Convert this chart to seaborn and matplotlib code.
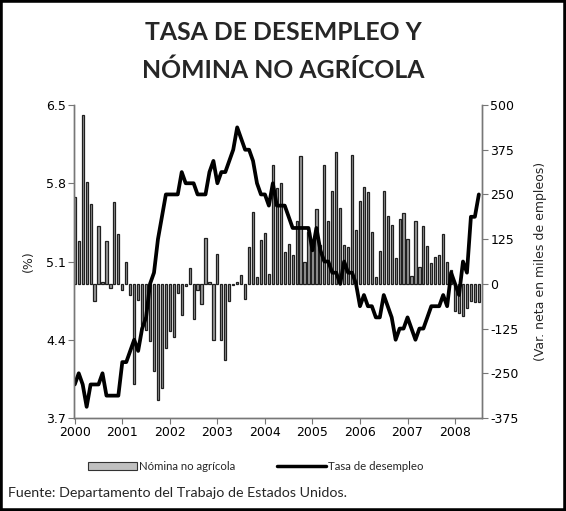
import numpy as np
import pandas as pd
import matplotlib
matplotlib.use("Agg")
import matplotlib.pyplot as plt
import seaborn as sns
from matplotlib.patches import Patch, Rectangle
from matplotlib.lines import Line2D

# ---- data (monthly, Jan 2000 - Jul 2008) ----
years = ["2000", "2001", "2002", "2003", "2004", "2005", "2006", "2007", "2008"]

unemployment = [
    4.0, 4.1, 4.0, 3.8, 4.0, 4.0, 4.0, 4.1, 3.9, 3.9, 3.9, 3.9,   # 2000
    4.2, 4.2, 4.3, 4.4, 4.3, 4.5, 4.6, 4.9, 5.0, 5.3, 5.5, 5.7,   # 2001
    5.7, 5.7, 5.7, 5.9, 5.8, 5.8, 5.8, 5.7, 5.7, 5.7, 5.9, 6.0,   # 2002
    5.8, 5.9, 5.9, 6.0, 6.1, 6.3, 6.2, 6.1, 6.1, 6.0, 5.8, 5.7,   # 2003
    5.7, 5.6, 5.8, 5.6, 5.6, 5.6, 5.5, 5.4, 5.4, 5.4, 5.4, 5.4,   # 2004
    5.2, 5.4, 5.2, 5.1, 5.1, 5.0, 5.0, 4.9, 5.1, 5.0, 5.0, 4.9,   # 2005
    4.7, 4.8, 4.7, 4.7, 4.6, 4.6, 4.8, 4.7, 4.6, 4.4, 4.5, 4.5,   # 2006
    4.6, 4.5, 4.4, 4.5, 4.5, 4.6, 4.7, 4.7, 4.7, 4.8, 4.7, 5.0,   # 2007
    4.9, 4.8, 5.1, 5.0, 5.5, 5.5, 5.7,                            # 2008
]

payrolls = [
    244, 120, 472, 286, 223, -47, 163, 5, 121, -12, 230, 138,          # 2000
    -17, 60, -31, -281, -45, -115, -128, -161, -245, -324, -291, -180,  # 2001
    -133, -149, -26, -87, -6, 44, -98, -17, -56, 128, 4, -156,          # 2002
    83, -158, -212, -49, -4, 5, 25, -43, 104, 202, 18, 123,             # 2003
    142, 27, 333, 269, 281, 88, 111, 81, 176, 358, 62, 144,             # 2004
    120, 209, 110, 332, 176, 261, 368, 212, 109, 104, 360, 151,         # 2005
    232, 272, 258, 146, 20, 93, 261, 190, 164, 72, 181, 197,            # 2006
    125, 23, 176, 46, 162, 107, 58, 74, 81, 140, 60, 39,                # 2007
    -77, -82, -89, -68, -49, -51, -51,                                  # 2008
]

months = list(range(len(unemployment)))
left_ticks = [3.7, 4.4, 5.1, 5.8, 6.5]
right_ticks = [-375, -250, -125, 0, 125, 250, 375, 500]

df = pd.DataFrame({"m": months, "u": unemployment, "p": payrolls})

sns.set_theme(style="white")
plt.rcParams["font.family"] = ["DejaVu Sans"]
plt.rcParams["font.sans-serif"] = ["DejaVu Sans"]

fig = plt.figure(figsize=(5.66, 5.11), dpi=100)
ax = fig.add_axes([0.1307, 0.182, 0.7209, 0.6125])
ax2 = ax.twinx()

sns.barplot(data=df, x="m", y="p", ax=ax2, color="#9a9a9a", edgecolor="#202020",
            linewidth=0.9, width=0.55, saturation=1, native_scale=True, errorbar=None)
sns.lineplot(data=df, x="m", y="u", ax=ax, color="black", linewidth=2.7)

ax.set_zorder(ax2.get_zorder() + 1)
ax.patch.set_visible(False)

ax.set_ylim(3.7, 6.5)
ax.set_yticks(left_ticks)
ax.set_yticklabels([f"{t:.1f}" for t in left_ticks])
ax2.set_ylim(-375, 500)
ax2.set_yticks(right_ticks)
ax2.set_yticklabels([str(t) for t in right_ticks])

ax.set_xticks([12 * i for i in range(len(years))])
ax.set_xticklabels(years)
ax.set_xlim(-0.2, 102.8)

tick_font = {"family": "DejaVu Sans", "size": 9}
ax.set_xlabel("")
ax.set_ylabel("(%)", fontdict=tick_font, labelpad=8)
ax2.set_xlabel("")
ax2.set_ylabel("(Var. neta en miles de empleos)", fontdict=tick_font, labelpad=11)

for a in (ax, ax2):
    a.spines["top"].set_visible(False)
    for s in ("left", "right", "bottom"):
        a.spines[s].set_color("#777777")
        a.spines[s].set_linewidth(1.0)
    a.tick_params(axis="both", direction="out", length=4, width=0.8,
                  color="#777777", labelsize=9, labelcolor="black", pad=2)
    for lab in a.get_xticklabels() + a.get_yticklabels():
        lab.set_fontfamily("DejaVu Sans")
ax.tick_params(axis="y", left=True, right=False)
ax.tick_params(axis="x", bottom=True)
ax2.tick_params(axis="y", right=True, left=False)

# title
fig.text(0.5, 1 - 32 / 511, "TASA DE DESEMPLEO Y", ha="center", va="center",
         fontsize=17.8, fontweight="bold", family="Lato")
fig.text(0.5, 1 - 70 / 511, "NÓMINA NO AGRÍCOLA", ha="center", va="center",
         fontsize=17.8, fontweight="bold", family="Lato")

# legend
handles = [
    Patch(facecolor="#c0c0c0", edgecolor="#333333", linewidth=0.8, label="Nómina no agrícola"),
    Line2D([], [], color="black", linewidth=2.5, label="Tasa de desempleo"),
]
fig.legend(handles=handles, loc="center", bbox_to_anchor=(0.452, 1 - 466 / 511), ncol=2,
           frameon=False, handlelength=4.3, handletextpad=0.2, columnspacing=3.6,
           prop={"family": "Lato", "size": 8.2})

# source
fig.text(0.014, 1 - 493 / 511, "Fuente: Departamento del Trabajo de Estados Unidos.",
         ha="left", va="center", fontsize=10.3, family="Lato")

# outer border
fig.add_artist(Rectangle((0, 0), 1, 1, transform=fig.transFigure, fill=False,
                         edgecolor="black", linewidth=4))

fig.savefig("out.png", dpi=100)
